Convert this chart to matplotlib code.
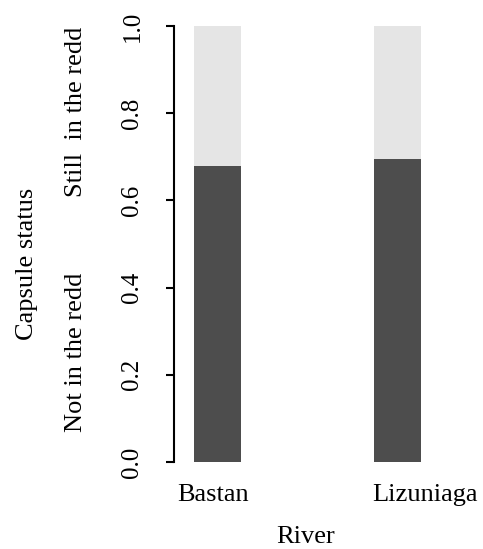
import matplotlib
matplotlib.use("Agg")
import matplotlib.pyplot as plt
import matplotlib.transforms as mtransforms

rivers = ["Bastan", "Lizuniaga"]
not_in_redd = [0.68, 0.695]
still_in_redd = [1 - v for v in not_in_redd]
yticks = [0.0, 0.2, 0.4, 0.6, 0.8, 1.0]
ytick_labels = ["0.0", "0.2", "0.4", "0.6", "0.8", "1.0"]

dark = "#4d4d4d"
light = "#e5e5e5"

plt.rcParams["font.family"] = ["Liberation Serif", "DejaVu Serif"]

W, H = 483, 549
fig = plt.figure(figsize=(W / 100, H / 100), dpi=100)

def fx(px):
    return px / W

def fy(py):
    return 1 - py / H

ax_left, ax_right, ax_top, ax_bottom = 174, 440, 26, 462
ax = fig.add_axes([fx(ax_left), fy(ax_bottom), fx(ax_right - ax_left), fy(ax_top) - fy(ax_bottom)])

x = list(range(len(rivers)))
bw = 0.259
ax.bar(x, not_in_redd, width=bw, color=dark, linewidth=0)
ax.bar(x, still_in_redd, width=bw, bottom=not_in_redd, color=light, linewidth=0)

ax.set_xlim(-0.241, 1.236)
ax.set_ylim(0, 1)
for s in ["top", "right", "bottom"]:
    ax.spines[s].set_visible(False)
ax.spines["left"].set_linewidth(1.5)
ax.set_xticks([])
ax.set_yticks(yticks)
ax.set_yticklabels(ytick_labels, rotation=90, va="center", fontsize=18)
ax.tick_params(axis="y", length=6, width=1.5, pad=16)

# x category labels
trans = mtransforms.blended_transform_factory(ax.transData, fig.transFigure)
label_offsets = [-0.024, 0.15]
for i, name in enumerate(rivers):
    ax.text(i + label_offsets[i], fy(501), name, transform=trans, ha="center",
            va="baseline", fontsize=19)

fig.text(fx(306), fy(543), "River", ha="center", va="baseline", fontsize=19)
fig.text(fx(82), fy(112), "Still  in the redd", rotation=90, rotation_mode="anchor",
         ha="center", va="baseline", fontsize=19)
fig.text(fx(82), fy(352), "Not in the redd", rotation=90, rotation_mode="anchor",
         ha="center", va="baseline", fontsize=19)
fig.text(fx(33), fy(264), "Capsule status", rotation=90, rotation_mode="anchor",
         ha="center", va="baseline", fontsize=19)

fig.savefig("out.png", dpi=100)
